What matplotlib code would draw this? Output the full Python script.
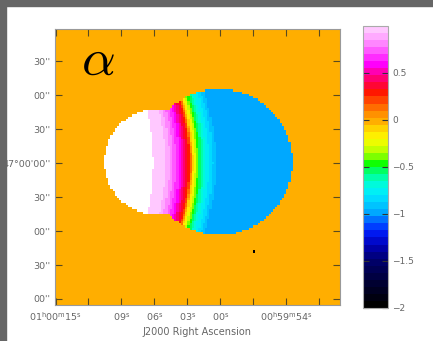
import numpy as np
import matplotlib
matplotlib.use("Agg")
import matplotlib.pyplot as plt
from matplotlib.colors import LinearSegmentedColormap, Normalize
from matplotlib.patches import Rectangle

# spectral index profile along the central row (RA offset in s from 01h00m00s)
ra_knots = [10.55, 6.36, 6.09, 5.45, 4.91, 4.55, 4.09, 3.73, 3.50, 3.18, 2.95,
            2.82, 2.68, 2.59, 2.45, 2.27, 2.09, 1.91, 1.73, 1.55, 1.27, 0.91, 0.68,
            0.45, 0.27, -0.18, -1.82, -6.82]
alpha_knots = [1.30, 1.10, 1.00, 0.96, 0.92, 0.83, 0.72, 0.62, 0.53, 0.40, 0.32,
               0.25, 0.10, -0.05, -0.15, -0.28, -0.40, -0.50, -0.58, -0.66, -0.75,
               -0.82, -0.88, -0.94, -0.98, -0.99, -1.00, -1.00]

# source outline: two overlapping discs (RA s, Dec arcsec, radius RA s, radius Dec arcsec)
disc_west = (0.09, 0.9, 6.64, 64.4)
disc_east = (5.73, 0.9, 4.82, 46.8)
bend = 0.85          # contour bow in RA seconds at 55 arcsec from the centre row
stray_pixel = (-3.18, -77.7, -2.0)

ra_ticks = [15, 12, 9, 6, 3, 0, -3, -6, -9]
ra_labels = [r"01$^{\rm h}$00$^{\rm m}$15$^{\rm s}$", "", r"09$^{\rm s}$", r"06$^{\rm s}$",
             r"03$^{\rm s}$", r"00$^{\rm s}$", "", r"00$^{\rm h}$59$^{\rm m}$54$^{\rm s}$", ""]
dec_ticks = [90, 60, 30, 0, -30, -60, -90, -120]
dec_labels = ["30''", "00''", "30''", "47\u00b000'00''", "30''", "00''", "30''", "00''"]
cbar_ticks = [0.5, 0, -0.5, -1, -1.5, -2]
cbar_labels = ["0.5", "0", "\u22120.5", "\u22121", "\u22121.5", "\u22122"]

# rainbow with white top, 40 levels
anchors = [(-2.0, "#000000"), (-1.7, "#000040"), (-1.5, "#000070"), (-1.35, "#0000b8"),
           (-1.2, "#0020ff"), (-1.1, "#0060ff"), (-1.0, "#00a8ff"), (-0.92, "#00c4ff"),
           (-0.8, "#00eaff"), (-0.66, "#00ffd0"), (-0.55, "#00ff70"), (-0.46, "#10ff00"),
           (-0.36, "#a0ff00"), (-0.25, "#e8ff00"), (-0.15, "#ffee00"), (-0.06, "#ffcc00"),
           (0.0, "#ffae00"), (0.1, "#ff8800"), (0.2, "#ff5500"), (0.32, "#ff1000"),
           (0.42, "#ff0050"), (0.52, "#ff00a0"), (0.62, "#ff00ff"), (0.75, "#ff50ff"),
           (0.88, "#ff99ff"), (1.0, "#ffc8ff")]
vmin, vmax = -2.0, 1.0
cmap = LinearSegmentedColormap.from_list(
    "alpha", [((v - vmin) / (vmax - vmin), c) for v, c in anchors]).resampled(40)
cmap.set_over("white")
cmap.set_bad("#ffae00")

# pixel grid, 0.2 s x 2 arcsec
ra_c = np.arange(15.3, -11.1, -0.2)
dec_c = np.arange(-126.0, 121.0, 2.0)
RA, DEC = np.meshgrid(ra_c, dec_c)

def inside(d):
    return ((RA - d[0]) / d[2]) ** 2 + ((DEC - d[1]) / d[3]) ** 2 <= 1.0

shifted = RA - bend * (DEC / 55.0) ** 2
amap = np.interp(shifted, ra_knots[::-1], alpha_knots[::-1])
amap[~(inside(disc_west) | inside(disc_east))] = np.nan
i = np.argmin(np.abs(dec_c - stray_pixel[1]))
j = np.argmin(np.abs(ra_c - stray_pixel[0]))
amap[i, j] = stray_pixel[2]

fig = plt.figure(figsize=(4.33, 3.41), dpi=100)
ax = fig.add_axes([0.127, 0.1056, 0.658, 0.809])
ax.set_facecolor("#ffae00")
im = ax.imshow(amap, origin="lower", cmap=cmap, norm=Normalize(vmin, vmax),
               extent=[ra_c[0] + 0.1, ra_c[-1] - 0.1, dec_c[0] - 1, dec_c[-1] + 1],
               interpolation="nearest", aspect="auto")
ax.set_xlim(15.05, -10.9)
ax.set_ylim(-125.3, 118.3)

ax.set_xticks(ra_ticks)
ax.set_xticklabels(ra_labels)
ax.set_yticks(dec_ticks)
ax.set_yticklabels(dec_labels)
ax.tick_params(direction="in", top=True, right=True, length=5, width=0.8,
               color="#5a4a20", labelcolor="#666666", labelsize=6.8, pad=3)
ax.tick_params(axis="x", pad=4)
for s in ax.spines.values():
    s.set_color("#999999")
ax.set_xlabel("J2000 Right Ascension", fontsize=7, color="#666666", labelpad=3)

ax.text(0.151, 0.89, r"$\alpha$", transform=ax.transAxes, fontsize=38,
        math_fontfamily="cm", ha="center", va="center", color="black")

cax = fig.add_axes([0.838, 0.0968, 0.058, 0.827])
cb = fig.colorbar(im, cax=cax, ticks=cbar_ticks)
cb.ax.set_yticklabels(cbar_labels)
cb.ax.tick_params(direction="in", left=True, right=True, length=4, width=0.8,
                  color="#333333", labelcolor="#666666", labelsize=6.5, pad=3)
cb.outline.set_edgecolor("#aaaaaa")

# window frame
fig.add_artist(Rectangle((0, 1 - 6 / 341), 1, 6 / 341, transform=fig.transFigure,
                         color="#666666", zorder=10))
fig.add_artist(Rectangle((0, 0), 6 / 433, 1, transform=fig.transFigure,
                         color="#666666", zorder=10))

fig.savefig("out.png", dpi=100)
